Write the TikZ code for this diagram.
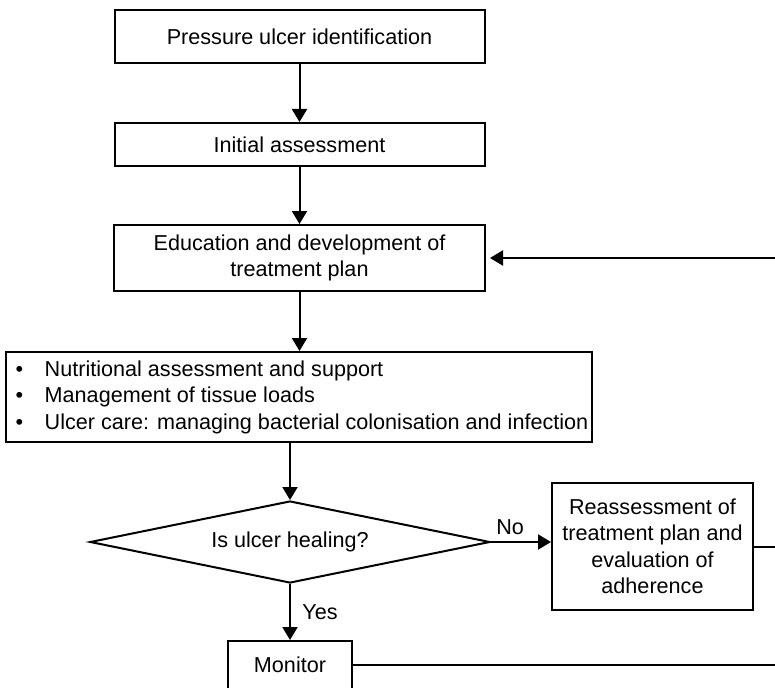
\documentclass[tikz,border=0pt]{standalone}
\usepackage{fontspec}
\setmainfont{Liberation Sans}
\usepackage{tikz}
\usetikzlibrary{arrows.meta,shapes.geometric}

\begin{document}
\begin{tikzpicture}[x=1pt, y=-1pt,
    font=\fontsize{21.6}{26.5}\selectfont,
    box_node/.style={rectangle, draw, line width=2pt, inner sep=0pt, align=center},
    decision_node/.style={diamond, draw, line width=2pt, inner sep=0pt, shape aspect=4.9},
    flow_arrow/.style={line width=2pt, -{Triangle[length=13pt,width=15pt]}}]

    \useasboundingbox (0, 0) rectangle (775, 687);
    \clip (0, 0) rectangle (775, 687);

    \node[box_node, minimum width=370pt, minimum height=53pt] (1) at (299.5, 36.5) {Pressure ulcer identification};
    \node[box_node, minimum width=370pt, minimum height=43pt] (2) at (299.5, 144.5) {Initial assessment};
    \node[box_node, minimum width=371pt, minimum height=66pt] (3) at (299.5, 258) {Education and development of\\treatment plan};
    \node[box_node, minimum width=586pt, minimum height=90pt, align=left] (4) at (299, 397)
        {\hspace*{6pt}\makebox[29pt][l]{\textbullet}Nutritional assessment and support\\
         \hspace*{6pt}\makebox[29pt][l]{\textbullet}Management of tissue loads\\
         \hspace*{6pt}\makebox[29pt][l]{\textbullet}Ulcer care: managing bacterial colonisation and infection};
    \node[decision_node, minimum width=400pt, minimum height=82pt] (5) at (290, 542) {Is ulcer healing?};
    \node[box_node, minimum width=201pt, minimum height=127pt] (6) at (652.5, 546.5) {Reassessment of\\treatment plan and\\evaluation of\\adherence};
    \node[box_node, minimum width=124pt, minimum height=48pt] (7) at (290, 665) {Monitor};
    \coordinate (8) at (800, 258);

    \draw[flow_arrow] (1) -- (2);
    \draw[flow_arrow] (2) -- (3);
    \draw[flow_arrow] (3.south) -- (3.south |- 4.north);
    \draw[flow_arrow] (4.south -| 5.north) -- (5.north);
    \draw[flow_arrow] (5.east) -- node[above=3pt, pos=0.32] {No} (5.east -| 6.west);
    \draw[flow_arrow] (5) -- node[right=8pt] {Yes} (7);
    \draw[flow_arrow, shorten >=4pt] (6.east) -| (8) -- (3.east);
    \draw[line width=2pt] (7.east) -| (8);
\end{tikzpicture}
\end{document}
